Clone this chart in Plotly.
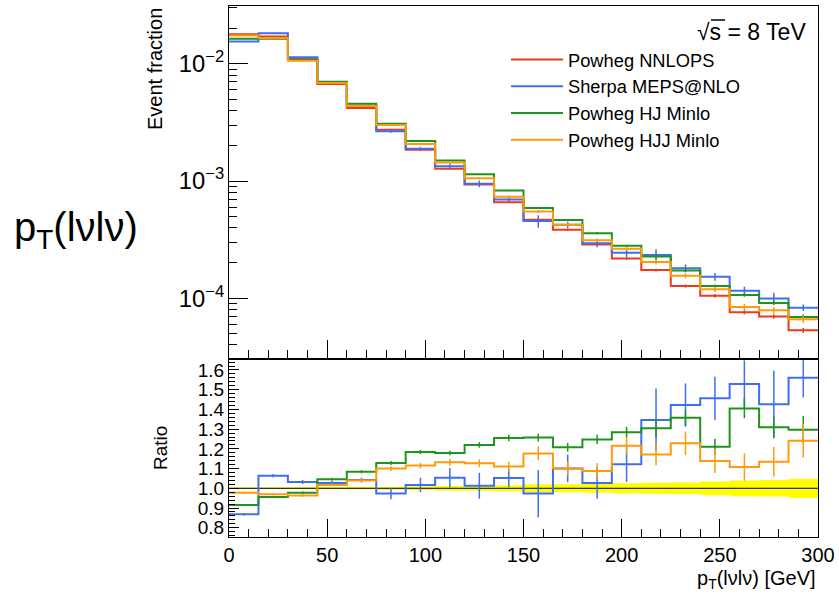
import plotly.graph_objects as go

# ---------------- data ----------------
edges = list(range(0, 301, 15))  # pT(lvlv) bin edges [GeV]

# Reference (Powheg NNLOPS) event fractions per bin
nnlops = [0.01782, 0.0171, 0.0110, 0.00672, 0.0042, 0.00273, 0.00185, 0.00127,
          0.000935, 0.00066, 0.000468, 0.000385, 0.000287, 0.000218, 0.000174,
          0.000127, 0.000105, 7.6e-5, 6.98e-5, 5.33e-5]
# relative uncertainty of the reference (yellow band half-width)
nnlops_relerr = [0.004, 0.004, 0.005, 0.005, 0.006, 0.007, 0.009, 0.012, 0.013, 0.015,
                 0.02, 0.02, 0.022, 0.025, 0.028, 0.03, 0.035, 0.04, 0.042, 0.049]

# Ratios to Powheg NNLOPS (lower panel)
ratio_sherpa = [0.868, 1.064, 1.032, 1.027, 1.042, 0.973, 1.017, 1.054, 1.013, 1.052,
                0.973, 1.101, 1.027, 1.122, 1.346, 1.422, 1.456, 1.529, 1.426, 1.561]
ratio_hj = [0.915, 0.956, 0.978, 1.046, 1.084, 1.128, 1.184, 1.179, 1.22, 1.255,
            1.257, 1.208, 1.248, 1.284, 1.304, 1.358, 1.211, 1.405, 1.309, 1.297]
ratio_hjj = [0.978, 0.970, 0.963, 1.017, 1.039, 1.10, 1.115, 1.132, 1.127, 1.11,
             1.177, 1.101, 1.088, 1.216, 1.172, 1.228, 1.138, 1.108, 1.135, 1.241]

err_sherpa = [0.006, 0.008, 0.01, 0.01, 0.012, 0.028, 0.036, 0.049, 0.066, 0.046,
              0.12, 0.07, 0.08, 0.09, 0.16, 0.11, 0.11, 0.12, 0.17, 0.10]
err_hj = [0.004, 0.005, 0.006, 0.007, 0.008, 0.01, 0.01, 0.012, 0.014, 0.016,
          0.02, 0.022, 0.024, 0.028, 0.046, 0.04, 0.04, 0.05, 0.055, 0.07]
err_hjj = [0.004, 0.005, 0.006, 0.007, 0.01, 0.012, 0.014, 0.018, 0.02, 0.025,
           0.035, 0.035, 0.04, 0.045, 0.055, 0.06, 0.06, 0.07, 0.075, 0.085]

names = ["Powheg NNLOPS", "Sherpa MEPS@NLO", "Powheg HJ Minlo", "Powheg HJJ Minlo"]
colors = ["#f0381c", "#3f6ff0", "#1f931f", "#ff9a0a"]

# ---------------- derived ----------------
centers = [(a + b) / 2 for a, b in zip(edges[:-1], edges[1:])]
ratios = [[1.0] * len(nnlops), ratio_sherpa, ratio_hj, ratio_hjj]
rerrs = [nnlops_relerr, err_sherpa, err_hj, err_hjj]
values = [[n * r for n, r in zip(nnlops, rat)] for rat in ratios]

W, H = 839, 595
px = lambda v: v / W
py = lambda v: 1 - v / H
FONT = "Liberation Sans, Arial, Helvetica, sans-serif"

fig = go.Figure()

# ---- top panel ----
for i in range(4):
    vals = values[i]
    fig.add_trace(go.Scatter(
        x=edges, y=vals + [vals[-1]], mode="lines", line_shape="hv",
        line=dict(color=colors[i], width=2), name=names[i],
        xaxis="x", yaxis="y"))
    abs_err = [v * e / r for v, e, r in zip(vals, rerrs[i], ratios[i])]
    fig.add_trace(go.Scatter(
        x=centers, y=vals, mode="markers", marker=dict(size=1, color=colors[i]),
        error_y=dict(type="data", array=abs_err, width=0, thickness=1.5, color=colors[i]),
        showlegend=False, hoverinfo="skip", xaxis="x", yaxis="y"))

# ---- ratio panel ----
lo = [1 - e for e in nnlops_relerr]
hi = [1 + e for e in nnlops_relerr]
fig.add_trace(go.Scatter(x=edges, y=lo + [lo[-1]], mode="lines", line_shape="hv",
                         line=dict(width=0, color="#ffff00"), showlegend=False,
                         hoverinfo="skip", xaxis="x2", yaxis="y2"))
fig.add_trace(go.Scatter(x=edges, y=hi + [hi[-1]], mode="lines", line_shape="hv",
                         line=dict(width=0, color="#ffff00"), fill="tonexty",
                         fillcolor="#ffff00", showlegend=False, hoverinfo="skip",
                         xaxis="x2", yaxis="y2"))
fig.add_trace(go.Scatter(x=[edges[0], edges[-1]], y=[1, 1], mode="lines",
                         line=dict(color="black", width=1), showlegend=False,
                         hoverinfo="skip", xaxis="x2", yaxis="y2"))
for i in range(1, 4):
    rat = ratios[i]
    fig.add_trace(go.Scatter(
        x=edges, y=rat + [rat[-1]], mode="lines", line_shape="hv",
        line=dict(color=colors[i], width=2), showlegend=False,
        hoverinfo="skip", xaxis="x2", yaxis="y2"))
    fig.add_trace(go.Scatter(
        x=centers, y=rat, mode="markers", marker=dict(size=1, color=colors[i]),
        error_y=dict(type="data", array=rerrs[i], width=0, thickness=1.5, color=colors[i]),
        showlegend=False, hoverinfo="skip", xaxis="x2", yaxis="y2"))

xdom = [px(229), px(818)]
common_x = dict(range=[0, 300], domain=xdom, showgrid=False, zeroline=False,
                automargin=False,
                showline=True, linecolor="black", linewidth=1, mirror=True,
                ticks="inside", dtick=50, tick0=0, ticklen=18, tickcolor="black",
                minor=dict(ticks="inside", dtick=10, ticklen=8, tickcolor="black",
                           showgrid=False))

fig.update_layout(
    width=W, height=H, margin=dict(l=0, r=0, t=0, b=0, autoexpand=False),
    paper_bgcolor="white", plot_bgcolor="white",
    font=dict(family=FONT, color="black", size=17),
    showlegend=True,
    legend=dict(x=px(506), y=py(41), xanchor="left", yanchor="top",
                traceorder="normal", itemwidth=52,
                bgcolor="rgba(0,0,0,0)", font=dict(size=18.3, family=FONT),
                tracegroupgap=0),
    xaxis=dict(**common_x, anchor="y", showticklabels=False),
    yaxis=dict(type="log", range=[-4.509, -1.508], domain=[py(358), py(6)],
               anchor="x", showgrid=False, zeroline=False, showline=True,
               automargin=False,
               linecolor="black", linewidth=1, mirror=True, ticks="inside",
               dtick=1, ticklen=19, tickcolor="black", exponentformat="power",
               tickfont=dict(size=19),
               minor=dict(ticks="inside", dtick="D1", ticklen=8, tickcolor="black",
                          showgrid=False)),
    xaxis2=dict(**common_x, anchor="y2", showticklabels=True,
                tickfont=dict(size=20)),
    yaxis2=dict(range=[0.753, 1.6506], domain=[py(537), py(360)], anchor="x2",
                automargin=False,
                showgrid=False, zeroline=False, showline=True, linecolor="black",
                linewidth=1, mirror=True, ticks="inside", dtick=0.1, tick0=0,
                tickformat=".1f", ticklen=10, tickcolor="black",
                tickfont=dict(size=19),
                minor=dict(ticks="inside", dtick=0.02, ticklen=6, tickcolor="black",
                           showgrid=False)),
)

ann = [
    dict(text="Event fraction", x=px(155), y=py(69), textangle=-90, font=dict(size=20)),
    dict(text="Ratio", x=px(160), y=py(448), textangle=-90, font=dict(size=19)),
    dict(text="p<sub>T</sub>(lνlν) [GeV]", x=px(818), y=py(579), xanchor="right",
         font=dict(size=20)),
    dict(text="p<sub>T</sub>(lνlν)", x=px(76), y=py(230), font=dict(size=40)),
    dict(text="√s = 8 TeV", x=px(808), y=py(32), xanchor="right", font=dict(size=23)),
]
for a in ann:
    a.setdefault("xanchor", "center")
    a.update(xref="paper", yref="paper", yanchor="middle", showarrow=False)
fig.update_layout(annotations=ann)

# overline of the square root over "s"
fig.add_shape(type="line", xref="paper", yref="paper",
              x0=px(711), x1=px(725), y0=py(20), y1=py(20),
              line=dict(color="black", width=1.5))

fig.write_html("out.html")
